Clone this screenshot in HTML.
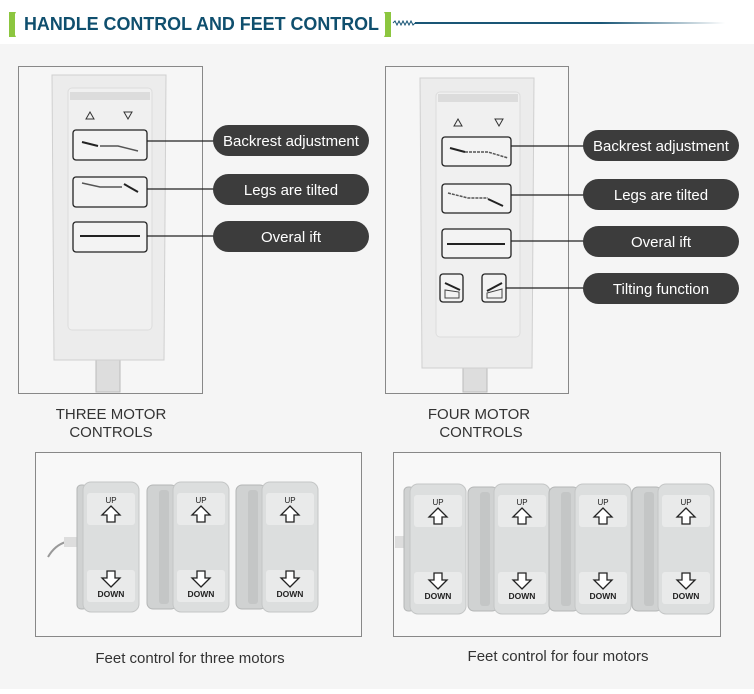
<!DOCTYPE html>
<html><head><meta charset="utf-8"><style>
body{margin:0;width:754px;height:689px;overflow:hidden;background:#fff;font-family:"Liberation Sans",Arial,sans-serif}
</style></head><body>
<svg width="754" height="689" viewBox="0 0 754 689" xmlns="http://www.w3.org/2000/svg" font-family="Liberation Sans, Arial, sans-serif">
<defs>
<linearGradient id="ln" x1="0" x2="1"><stop offset="0" stop-color="#1a5676"/><stop offset="0.6" stop-color="#1a5676"/><stop offset="1" stop-color="#1a5676" stop-opacity="0"/></linearGradient>
<g id="up"><path d="M0,-8 L9,1 L4,1 L4,8 L-4,8 L-4,1 L-9,1 Z" fill="#fff" stroke="#222" stroke-width="1.3"/></g>
<g id="dn"><path d="M0,8 L9,-1 L4,-1 L4,-8 L-4,-8 L-4,-1 L-9,-1 Z" fill="#fff" stroke="#222" stroke-width="1.3"/></g>
<g id="face">
<rect x="0" y="0" width="56" height="130" rx="8" fill="#dcdede" stroke="#c4c6c6"/>
<rect x="4" y="11" width="48" height="32" rx="3" fill="#e9eaea"/>
<rect x="4" y="88" width="48" height="32" rx="3" fill="#e9eaea"/>
<text x="28" y="21" font-size="8" text-anchor="middle" fill="#222">UP</text>
<use href="#up" x="28" y="32"/>
<use href="#dn" x="28" y="97"/>
<text x="28" y="115" font-size="8.5" font-weight="bold" text-anchor="middle" fill="#222">DOWN</text>
</g>
<g id="ped">
<rect x="-26" y="3" width="30" height="124" rx="6" fill="#d0d2d2" stroke="#b4b6b6"/>
<rect x="-14" y="8" width="10" height="114" rx="3" fill="#c4c6c6"/>
<use href="#face"/>
</g>
<g id="ped1">
<rect x="-6" y="3" width="10" height="124" rx="4" fill="#d0d2d2" stroke="#b4b6b6"/>
<use href="#face"/>
</g>
</defs>
<rect x="0" y="44" width="754" height="645" fill="#f5f5f5"/>
<!-- title -->
<path d="M16,12 L9,12 L9,37 L16,37 L15,35 L15,14 Z" fill="#8cc63f"/>
<path d="M384,12 L391,12 L391,37 L384,37 L385,35 L385,14 Z" fill="#8cc63f"/>
<text x="24" y="30" font-size="18" font-weight="bold" fill="#0f4f6e" textLength="355" lengthAdjust="spacingAndGlyphs">HANDLE CONTROL AND FEET CONTROL</text>
<path d="M393,23 l2,-2 2,4 2,-4 2,4 2,-4 2,4 2,-4 2,4 2,-4 2,4 2,-2" fill="none" stroke="#1a5676" stroke-width="1"/>
<rect x="415" y="22" width="310" height="2" fill="url(#ln)"/>
<!-- boxes -->
<rect x="18.5" y="66.5" width="184" height="327" fill="#f6f6f6" stroke="#888"/>
<rect x="385.5" y="66.5" width="183" height="327" fill="#f6f6f6" stroke="#888"/>
<rect x="35.5" y="452.5" width="326" height="184" fill="#f8f8f8" stroke="#888"/>
<rect x="393.5" y="452.5" width="327" height="184" fill="#f8f8f8" stroke="#888"/>
<!-- left remote -->
<rect x="96" y="350" width="24" height="42" fill="#ddd" stroke="#bbb"/>
<path d="M52,75 L166,75 L164,360 L54,360 Z" fill="#ececec" stroke="#d0d0d0"/>
<rect x="68" y="88" width="84" height="242" rx="4" fill="#f0f0f0" stroke="#ddd"/>
<rect x="70" y="92" width="80" height="8" fill="#dcdcdc"/>
<path d="M86,119 l4,-7 4,7z" fill="none" stroke="#333"/><path d="M124,112 l4,7 4,-7z" fill="none" stroke="#333"/>
<g fill="#f3f3f3" stroke="#222" stroke-width="1.3">
<rect x="73" y="130" width="74" height="30" rx="3"/><rect x="73" y="177" width="74" height="30" rx="3"/><rect x="73" y="222" width="74" height="30" rx="3"/></g>
<g stroke="#222" stroke-width="2"><path d="M82,142 L98,146"/><path d="M124,184 L138,192"/><path d="M80,236 L140,236"/></g>
<path d="M100,146 L118,146 L138,151" fill="none" stroke="#555" stroke-width="1.5"/>
<path d="M82,183 L100,187 L122,187" fill="none" stroke="#555" stroke-width="1.5"/>
<!-- right remote -->
<rect x="463" y="350" width="24" height="42" fill="#ddd" stroke="#bbb"/>
<path d="M420,78 L534,78 L532,368 L422,368 Z" fill="#ececec" stroke="#d0d0d0"/>
<rect x="436" y="92" width="84" height="245" rx="4" fill="#f0f0f0" stroke="#ddd"/>
<rect x="438" y="94" width="80" height="8" fill="#dcdcdc"/>
<path d="M454,126 l4,-7 4,7z" fill="none" stroke="#333"/><path d="M495,119 l4,7 4,-7z" fill="none" stroke="#333"/>
<g fill="#f3f3f3" stroke="#222" stroke-width="1.3">
<rect x="442" y="137" width="69" height="29" rx="3"/><rect x="442" y="184" width="69" height="29" rx="3"/><rect x="442" y="229" width="69" height="29" rx="3"/>
<rect x="440" y="274" width="23" height="28" rx="3"/><rect x="482" y="274" width="24" height="28" rx="3"/></g>
<g stroke="#222" stroke-width="2"><path d="M450,148 L465,152"/><path d="M488,199 L503,206"/><path d="M447,244 L505,244"/><path d="M445,283 L460,290"/><path d="M487,291 L502,283"/></g>
<path d="M465,152 L488,152 L508,158" fill="none" stroke="#555" stroke-width="1.5" stroke-dasharray="3 1"/>
<path d="M448,193 L468,198 L488,198" fill="none" stroke="#555" stroke-width="1.5" stroke-dasharray="3 1"/>
<path d="M445,290 L445,298 L459,298 L459,292 Z M487,298 L502,298 L502,289 L487,293Z" fill="none" stroke="#444"/>
<!-- connectors -->
<g stroke="#222" stroke-width="1.2">
<line x1="147" y1="141" x2="215" y2="141"/><line x1="147" y1="189" x2="215" y2="189"/><line x1="147" y1="236" x2="215" y2="236"/>
<line x1="511" y1="146" x2="585" y2="146"/><line x1="511" y1="195" x2="585" y2="195"/><line x1="511" y1="241" x2="585" y2="241"/><line x1="506" y1="288" x2="585" y2="288"/></g>
<g fill="#3c3c3c">
<rect x="213" y="125" width="156" height="31" rx="15.5"/><rect x="213" y="174" width="156" height="31" rx="15.5"/><rect x="213" y="221" width="156" height="31" rx="15.5"/>
<rect x="583" y="130" width="156" height="31" rx="15.5"/><rect x="583" y="179" width="156" height="31" rx="15.5"/><rect x="583" y="226" width="156" height="31" rx="15.5"/><rect x="583" y="273" width="156" height="31" rx="15.5"/></g>
<g fill="#fff" font-size="15" text-anchor="middle">
<text x="291" y="146">Backrest adjustment</text><text x="291" y="195">Legs are tilted</text><text x="291" y="242">Overal ift</text>
<text x="661" y="151">Backrest adjustment</text><text x="661" y="200">Legs are tilted</text><text x="661" y="247">Overal ift</text><text x="661" y="294">Tilting function</text></g>
<g fill="#333" font-size="15" text-anchor="middle">
<text x="111" y="419">THREE MOTOR</text><text x="111" y="437">CONTROLS</text>
<text x="479" y="419">FOUR MOTOR</text><text x="481" y="437">CONTROLS</text>
<text x="190" y="663">Feet control for three motors</text><text x="558" y="661">Feet control for four motors</text></g>
<!-- pedals -->
<path d="M48,557 Q55,545 66,542" fill="none" stroke="#999" stroke-width="2"/>
<rect x="64" y="537" width="14" height="10" fill="#ddd"/>
<use href="#ped1" x="83" y="482"/><use href="#ped" x="173" y="482"/><use href="#ped" x="262" y="482"/>
<rect x="395" y="536" width="12" height="12" fill="#ddd"/>
<use href="#ped1" x="410" y="484"/><use href="#ped" x="494" y="484"/><use href="#ped" x="575" y="484"/><use href="#ped" x="658" y="484"/>
</svg>
</body></html>
